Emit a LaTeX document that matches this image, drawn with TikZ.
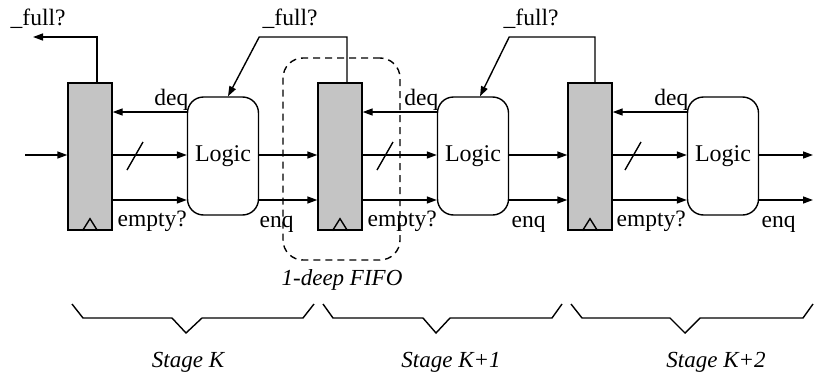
\documentclass[tikz,border=0pt]{standalone}
\usepackage{fontspec}
\setmainfont{Liberation Serif}
\usetikzlibrary{arrows.meta}
\definecolor{regfill}{RGB}{196,196,196}
\begin{document}
\begin{tikzpicture}[x=1pt,y=-1pt,line width=1.4pt,
  reg/.style={draw,fill=regfill,minimum width=44pt,minimum height=147pt,inner sep=0pt},
  logic/.style={draw,rounded corners=16pt,minimum width=71pt,minimum height=118pt,inner sep=0pt,font=\fontsize{24}{28}\selectfont},
  lab/.style={font=\fontsize{23.5}{28}\selectfont,inner sep=0pt},
  ilab/.style={font=\fontsize{23}{27}\selectfont\itshape,inner sep=0pt},
  arr/.style={-{Triangle[length=10pt,width=7pt]}},
  fifobox/.style={draw,dash pattern=on 7pt off 5pt,rounded corners=20pt,minimum width=117pt,minimum height=202pt,inner sep=0pt}]
\useasboundingbox (0,0) rectangle (814,375);
% rows
\coordinate (yq) at (0,112);
\coordinate (yd) at (0,155);
\coordinate (ye) at (0,200);
\coordinate (ytop) at (0,37);
% dashed FIFO box (behind)
\node[fifobox] (fifo) at (341.5,159) {};
% registers
\node[reg] (R1) at (90,156.5) {};
\node[reg] (R2) at (340,156.5) {};
\node[reg] (R3) at (590,156.5) {};
% logic
\node[logic] (L1) at (223,156) {Logic};
\node[logic] (L2) at (473,156) {Logic};
\node[logic] (L3) at (723,156) {Logic};
% clock triangles
\draw ([xshift=-7.5pt]R1.south) -- ++(7.5,-12) -- ++(7.5,12);
\draw ([xshift=-7.5pt]R2.south) -- ++(7.5,-12) -- ++(7.5,12);
\draw ([xshift=-7.5pt]R3.south) -- ++(7.5,-12) -- ++(7.5,12);
% input
\coordinate (in) at (25,155);
\draw[arr] (in) -- (R1.west |- yd);
% stage connections
\draw[arr] (L1.west |- yq) -- (R1.east |- yq);
\draw[arr] (R1.east |- yd) -- (L1.west |- yd);
\draw[arr] (R1.east |- ye) -- (L1.west |- ye);
\draw[arr] (L1.east |- yd) -- (R2.west |- yd);
\draw[arr] (L1.east |- ye) -- (R2.west |- ye);
\draw[arr] (L2.west |- yq) -- (R2.east |- yq);
\draw[arr] (R2.east |- yd) -- (L2.west |- yd);
\draw[arr] (R2.east |- ye) -- (L2.west |- ye);
\draw[arr] (L2.east |- yd) -- (R3.west |- yd);
\draw[arr] (L2.east |- ye) -- (R3.west |- ye);
\draw[arr] (L3.west |- yq) -- (R3.east |- yq);
\draw[arr] (R3.east |- yd) -- (L3.west |- yd);
\draw[arr] (R3.east |- ye) -- (L3.west |- ye);
\coordinate (o1) at (813,155);
\coordinate (o2) at (813,200);
\draw[arr] (L3.east |- yd) -- (o1);
\draw[arr] (L3.east |- ye) -- (o2);
% bus slashes
\draw (127,170) -- (143,142);
\draw (377,170) -- (393,142);
\draw (625,170) -- (641,142);
% full feedback
\coordinate (f1) at (33,37);
\draw[arr] ([xshift=7pt]R1.north) |- (f1);
\draw[arr] ([xshift=7pt]R2.north) |- (L1.east |- ytop) -- ([xshift=5pt]L1.north);
\draw[arr] ([xshift=5pt]R3.north) |- (L2.east |- ytop) -- ([xshift=7pt]L2.north);
% labels
\node[lab,anchor=base west] (fl1) at (10,25) {\_full?};
\node[lab,anchor=base west] (fl2) at (262,25) {\_full?};
\node[lab,anchor=base west] (fl3) at (503,25) {\_full?};
\node[lab,anchor=base east] (dq1) at (189,105) {deq};
\node[lab,anchor=base east] (dq2) at (439,105) {deq};
\node[lab,anchor=base east] (dq3) at (689,105) {deq};
\node[lab,anchor=base west] (em1) at (117,226) {empty?};
\node[lab,anchor=base west] (em2) at (367,226) {empty?};
\node[lab,anchor=base west] (em3) at (616,226) {empty?};
\node[lab,anchor=base west] (eq1) at (259,227) {enq};
\node[lab,anchor=base west] (eq2) at (511,227) {enq};
\node[lab,anchor=base west] (eq3) at (761,227) {enq};
\node[ilab,anchor=base] (fifolab) at (342,285) {1-deep FIFO};
% braces
\draw (72,304) -- (83,318) -- (172,318) -- (186,333) -- (202,318) -- (303,318) -- (314,304);
\draw (323,304) -- (333,318) -- (423,318) -- (436,333) -- (450,318) -- (552,318) -- (562,304);
\draw (571,304) -- (582,318) -- (670,318) -- (685,333) -- (700,318) -- (803,318) -- (813,304);
\node[ilab,anchor=base] (s1) at (188,367) {Stage K};
\node[ilab,anchor=base] (s2) at (451,367) {Stage K+1};
\node[ilab,anchor=base] (s3) at (716,367) {Stage K+2};
\end{tikzpicture}
\end{document}
